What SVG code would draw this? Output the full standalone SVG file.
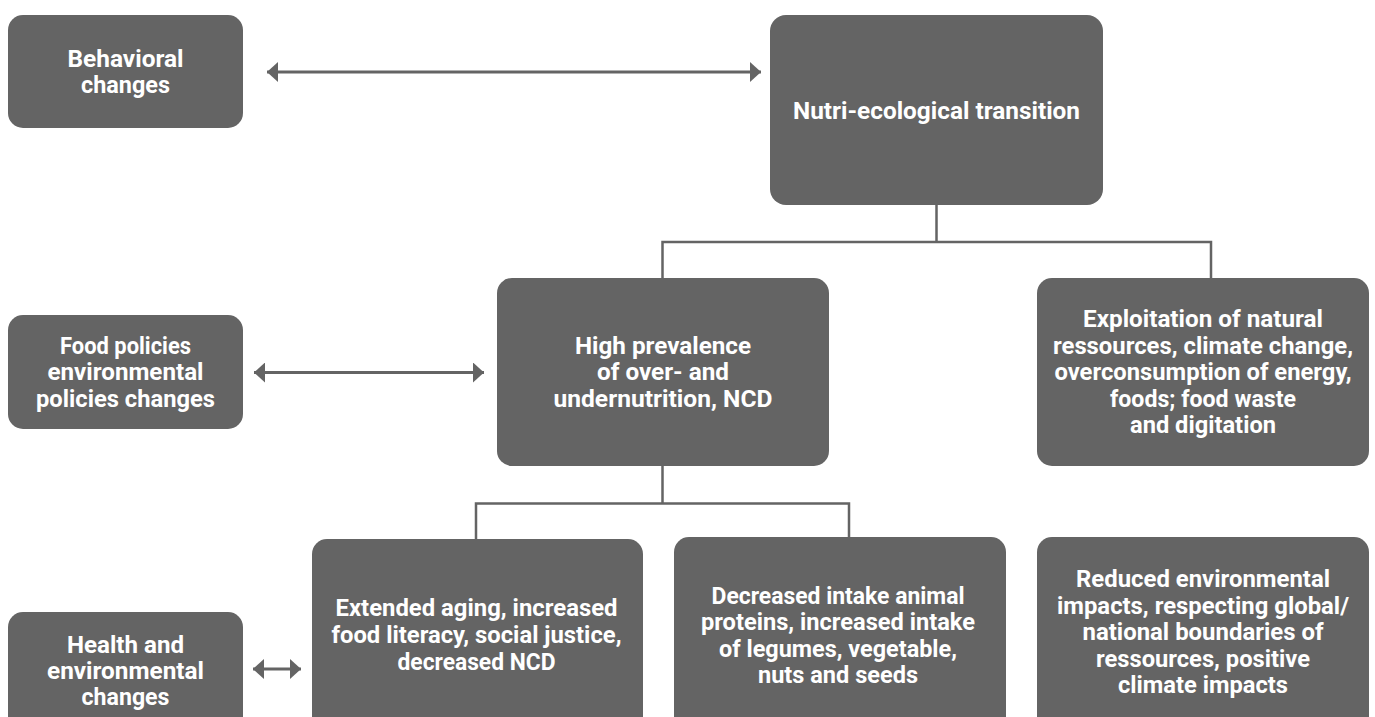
<svg xmlns="http://www.w3.org/2000/svg" width="1375" height="717" viewBox="0 0 1375 717">
<style>
.box{fill:#646464}
.t{font-family:Roboto,"Liberation Sans",sans-serif;font-weight:700;font-size:23px;fill:#ffffff;text-anchor:middle}
.conn{fill:none;stroke:#646464;stroke-width:2.5}
.arr{fill:none;stroke:#646464;stroke-width:3;marker-start:url(#ah);marker-end:url(#ah)}
</style>
<defs>
<marker id="ah" markerUnits="userSpaceOnUse" markerWidth="11" markerHeight="20" refX="11" refY="10" orient="auto-start-reverse" viewBox="0 0 11 20">
<path d="M0,0 L11,10 L0,20 Z" fill="#646464"/>
</marker>
</defs>
<rect width="1375" height="717" fill="#ffffff"/>
<g id="connectors">
<path class="conn" d="M936.5,205 V242 M662.5,278 V242 H1211 V278"/>
<path class="conn" d="M662.5,466 V503.5 M476,539 V503.5 H849 V537"/>
<line class="arr" x1="267" y1="72" x2="761" y2="72"/>
<line class="arr" x1="254" y1="372.5" x2="484" y2="372.5"/>
<line class="arr" x1="253" y1="669" x2="301" y2="669"/>
</g>
<g id="behavioral">
<rect class="box" x="8" y="15" width="235" height="113" rx="15"/>
<text class="t"><tspan x="125.5" y="66.5" textLength="116" lengthAdjust="spacingAndGlyphs">Behavioral</tspan><tspan x="125.5" y="93" textLength="89" lengthAdjust="spacingAndGlyphs">changes</tspan></text>
</g>
<g id="nutri">
<rect class="box" x="770" y="15" width="333" height="190" rx="16"/>
<text class="t"><tspan x="936.5" y="119" textLength="287" lengthAdjust="spacingAndGlyphs">Nutri-ecological transition</tspan></text>
</g>
<g id="food-policies">
<rect class="box" x="8" y="315" width="235" height="114" rx="15"/>
<text class="t"><tspan x="125.5" y="353.5" textLength="131" lengthAdjust="spacingAndGlyphs">Food policies</tspan><tspan x="125.5" y="380" textLength="156" lengthAdjust="spacingAndGlyphs">environmental</tspan><tspan x="125.5" y="406.5" textLength="179" lengthAdjust="spacingAndGlyphs">policies changes</tspan></text>
</g>
<g id="high-prevalence">
<rect class="box" x="497" y="278" width="332" height="188" rx="15"/>
<text class="t"><tspan x="663" y="354" textLength="176" lengthAdjust="spacingAndGlyphs">High prevalence</tspan><tspan x="663" y="380" textLength="132" lengthAdjust="spacingAndGlyphs">of over- and</tspan><tspan x="663" y="406.5" textLength="219" lengthAdjust="spacingAndGlyphs">undernutrition, NCD</tspan></text>
</g>
<g id="exploitation">
<rect class="box" x="1037" y="278" width="332" height="188" rx="15"/>
<text class="t"><tspan x="1203" y="327" textLength="240" lengthAdjust="spacingAndGlyphs">Exploitation of natural</tspan><tspan x="1203" y="353.5" textLength="300" lengthAdjust="spacingAndGlyphs">ressources, climate change,</tspan><tspan x="1203" y="380" textLength="297" lengthAdjust="spacingAndGlyphs">overconsumption of energy,</tspan><tspan x="1203" y="406.5" textLength="186" lengthAdjust="spacingAndGlyphs">foods; food waste</tspan><tspan x="1203" y="433" textLength="146" lengthAdjust="spacingAndGlyphs">and digitation</tspan></text>
</g>
<g id="health">
<rect class="box" x="8" y="612" width="235" height="125" rx="15"/>
<text class="t"><tspan x="125.5" y="653" textLength="117" lengthAdjust="spacingAndGlyphs">Health and</tspan><tspan x="125.5" y="679" textLength="157" lengthAdjust="spacingAndGlyphs">environmental</tspan><tspan x="125.5" y="705" textLength="88" lengthAdjust="spacingAndGlyphs">changes</tspan></text>
</g>
<g id="extended">
<rect class="box" x="312" y="539" width="331" height="200" rx="15"/>
<text class="t"><tspan x="476.5" y="616" textLength="282" lengthAdjust="spacingAndGlyphs">Extended aging, increased</tspan><tspan x="476.5" y="643" textLength="290" lengthAdjust="spacingAndGlyphs">food literacy, social justice,</tspan><tspan x="476.5" y="669.5" textLength="158" lengthAdjust="spacingAndGlyphs">decreased NCD</tspan></text>
</g>
<g id="decreased">
<rect class="box" x="674" y="537" width="332" height="200" rx="15"/>
<text class="t"><tspan x="838" y="603.5" textLength="253" lengthAdjust="spacingAndGlyphs">Decreased intake animal</tspan><tspan x="838" y="630" textLength="274" lengthAdjust="spacingAndGlyphs">proteins, increased intake</tspan><tspan x="838" y="656.5" textLength="238" lengthAdjust="spacingAndGlyphs">of legumes, vegetable,</tspan><tspan x="838" y="683" textLength="160" lengthAdjust="spacingAndGlyphs">nuts and seeds</tspan></text>
</g>
<g id="reduced">
<rect class="box" x="1037" y="537" width="332" height="200" rx="15"/>
<text class="t"><tspan x="1203" y="587" textLength="254" lengthAdjust="spacingAndGlyphs">Reduced environmental</tspan><tspan x="1203" y="613.5" textLength="292" lengthAdjust="spacingAndGlyphs">impacts, respecting global/</tspan><tspan x="1203" y="640" textLength="241" lengthAdjust="spacingAndGlyphs">national boundaries of</tspan><tspan x="1203" y="666.5" textLength="214" lengthAdjust="spacingAndGlyphs">ressources, positive</tspan><tspan x="1203" y="693" textLength="170" lengthAdjust="spacingAndGlyphs">climate impacts</tspan></text>
</g>
</svg>
